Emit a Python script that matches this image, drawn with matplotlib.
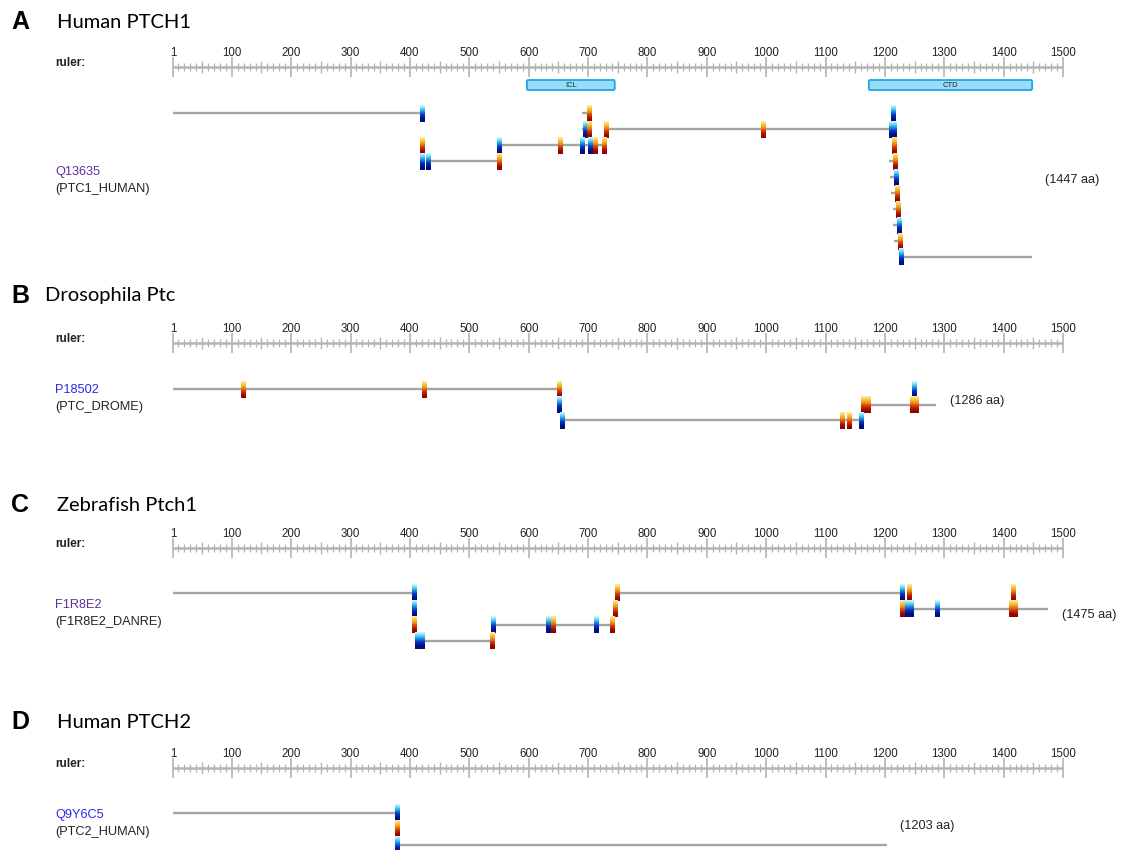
import numpy as np
import matplotlib
matplotlib.use("Agg")
import matplotlib.pyplot as plt
from matplotlib.colors import LinearSegmentedColormap
from matplotlib.patches import FancyBboxPatch

plt.rcParams['font.family'] = ['Liberation Sans', 'DejaVu Sans']

# ---- data ----
RULER_LABELS = [1, 100, 200, 300, 400, 500, 600, 700, 800, 900, 1000, 1100, 1200, 1300, 1400, 1500]

PANEL_LETTERS = ['A', 'B', 'C', 'D']
PANEL_TITLES = ['Human PTCH1', 'Drosophila Ptc', 'Zebrafish Ptch1', 'Human PTCH2']
ACCESSIONS = ['Q13635', 'P18502', 'F1R8E2', 'Q9Y6C5']
ENTRY_NAMES = ['(PTC1_HUMAN)', '(PTC_DROME)', '(F1R8E2_DANRE)', '(PTC2_HUMAN)']
LENGTHS = [1447, 1286, 1475, 1203]

# domains of human PTCH1 (start, end, label)
DOMAINS_A = [(597, 745, 'ICL'), (1173, 1448, 'CTD')]

# line segments: (row, start, end)
SEG_A = [(0, 1, 420), (0, 690, 698), (1, 690, 695), (1, 730, 1213),
         (2, 550, 727), (3, 431, 550), (3, 1207, 1214), (4, 1209, 1216),
         (5, 1210, 1217), (6, 1213, 1220), (7, 1214, 1221), (8, 1216, 1223),
         (9, 1228, 1447)]
SEG_B = [(0, 1, 651), (1, 1172, 1286), (2, 656, 1161)]
SEG_C = [(0, 1, 408), (0, 749, 1229), (1, 1241, 1475), (2, 540, 740), (3, 420, 538)]
SEG_D = [(0, 1, 378), (2, 379, 1203)]

# markers: (row, position, kind)  b = blue, r = red
MARK_A = [(0, 420, 'b'), (0, 702, 'r'), (0, 1214, 'b'),
          (1, 695, 'b'), (1, 702, 'r'), (1, 730, 'r'), (1, 995, 'r'), (1, 1211, 'b'), (1, 1216, 'b'),
          (2, 421, 'r'), (2, 550, 'b'), (2, 653, 'r'), (2, 690, 'b'), (2, 703, 'b'), (2, 712, 'r'),
          (2, 727, 'r'), (2, 1215, 'r'),
          (3, 421, 'b'), (3, 431, 'b'), (3, 550, 'r'), (3, 1217, 'r'),
          (4, 1219, 'b'), (5, 1220, 'r'), (6, 1223, 'r'), (7, 1224, 'b'), (8, 1226, 'r'),
          (9, 1228, 'b')]
MARK_B = [(0, 119, 'r'), (0, 424, 'r'), (0, 651, 'r'), (0, 1249, 'b'),
          (1, 651, 'b'), (1, 1163, 'r'), (1, 1172, 'r'), (1, 1246, 'r'), (1, 1252, 'r'),
          (2, 656, 'b'), (2, 1128, 'r'), (2, 1140, 'r'), (2, 1161, 'b')]
MARK_C = [(0, 408, 'b'), (0, 749, 'r'), (0, 1229, 'b'), (0, 1241, 'r'), (0, 1416, 'r'),
          (1, 408, 'b'), (1, 745, 'r'), (1, 1229, 'r'), (1, 1238, 'b'), (1, 1244, 'b'),
          (1, 1288, 'b'), (1, 1413, 'r'), (1, 1419, 'r'),
          (2, 408, 'r'), (2, 540, 'b'), (2, 633, 'b'), (2, 641, 'r'), (2, 713, 'b'), (2, 740, 'r'),
          (3, 412, 'b'), (3, 420, 'b'), (3, 538, 'r')]
MARK_D = [(0, 378, 'b'), (1, 378, 'r'), (2, 379, 'b')]

SEGMENTS = [SEG_A, SEG_B, SEG_C, SEG_D]
MARKERS = [MARK_A, MARK_B, MARK_C, MARK_D]

# ---- layout (pixel units, y downwards) ----
W, H = 1126, 850
PX_PER_AA = 890 / 1499
HEADER_Y = [22, 296, 505, 722]
TITLE_X = [57, 45, 57, 57]
RULER_Y = [67, 343, 548, 768]
ROW0_Y = [113, 389, 593, 813]
ROW_STEP = [16, 15.5, 16, 16]
NAME_Y = [172, 390, 605, 815]
LEN_Y = [180, 401, 615, 826]
ACC_COLORS = ['#62309a', '#2a2ae6', '#62309a', '#2a2ae6']

X_LEFT = 1 - 173 / PX_PER_AA


def px(xp):
    return X_LEFT + xp / PX_PER_AA


blue_cmap = LinearSegmentedColormap.from_list(
    'blu', ['#d8fbff', '#5fd6f6', '#1a86e0', '#0630b8', '#00128c', '#000f80'])
red_cmap = LinearSegmentedColormap.from_list(
    'red', ['#ffeeb0', '#fbc540', '#ec8a18', '#c83a08', '#a30a00', '#8c0000'])
grad = np.linspace(0, 1, 64).reshape(-1, 1)

fig = plt.figure(figsize=(W / 100, H / 100), dpi=100)
ax = fig.add_axes([0, 0, 1, 1])
ax.axis('off')

GRAY = '#a4a4a4'
MW = 7.5  # marker width in aa

for i in range(4):
    # header
    ax.text(px(11), HEADER_Y[i], PANEL_LETTERS[i], fontsize=18, fontweight='bold',
            ha='left', va='center', color='black')
    ax.text(px(TITLE_X[i]), HEADER_Y[i], PANEL_TITLES[i], fontsize=14.5,
            ha='left', va='center', color='black', family=['Lato', 'DejaVu Sans'])

    # ruler
    ry = RULER_Y[i]
    ax.text(px(55), ry - 4, 'ruler:', fontsize=8.5, fontweight='bold', ha='left', va='center',
            color='#222222')
    ax.hlines(ry, 1, 1500, color='#b4b4b4', lw=1.8, zorder=1)
    minor = np.arange(10, 1500, 10)
    minor = minor[minor % 50 != 0]
    ax.vlines(minor, ry - 4, ry + 4, color='#b4b4b4', lw=0.9, zorder=1)
    mid = np.arange(50, 1500, 100)
    ax.vlines(mid, ry - 6, ry + 6, color='#b4b4b4', lw=1.0, zorder=1)
    ax.vlines(RULER_LABELS, ry - 10, ry + 10, color='#b4b4b4', lw=1.2, zorder=1)
    for lab in RULER_LABELS:
        ax.text(lab, ry - 14, str(lab), fontsize=8.3, ha='center', va='center', color='#222222')

    # protein labels
    ax.text(px(55), NAME_Y[i], ACCESSIONS[i], fontsize=9.2, ha='left', va='center',
            color=ACC_COLORS[i])
    ax.text(px(55), NAME_Y[i] + 17, ENTRY_NAMES[i], fontsize=9.2, ha='left', va='center',
            color='#222222')
    ax.text(LENGTHS[i] + 23, LEN_Y[i], '(%d aa)' % LENGTHS[i], fontsize=9.2, ha='left',
            va='center', color='#222222')

    # segments
    for row, s, e in SEGMENTS[i]:
        y = ROW0_Y[i] + row * ROW_STEP[i]
        ax.hlines(y, s, e, color=GRAY, lw=1.7, zorder=2)

    # markers
    for row, p, kind in MARKERS[i]:
        y = ROW0_Y[i] + row * ROW_STEP[i]
        cm = blue_cmap if kind == 'b' else red_cmap
        ax.imshow(grad, cmap=cm, aspect='auto', interpolation='bilinear',
                  extent=[p - MW / 2, p + MW / 2, y + 8.5, y - 8.5], zorder=3)

# domain boxes in panel A
for s, e, lab in DOMAINS_A:
    box = FancyBboxPatch((s, 80), e - s, 10, boxstyle='round,pad=0,rounding_size=2',
                         facecolor='#9adcf6', edgecolor='#18a8e8', lw=1.3,
                         mutation_aspect=1, zorder=2)
    ax.add_patch(box)
    ax.text((s + e) / 2, 85, lab, fontsize=5.5, ha='center', va='center', color='#222222', zorder=3)

ax.set_xlim(X_LEFT, X_LEFT + W / PX_PER_AA)
ax.set_ylim(H, 0)

fig.savefig('out.png', dpi=100, facecolor='white')
